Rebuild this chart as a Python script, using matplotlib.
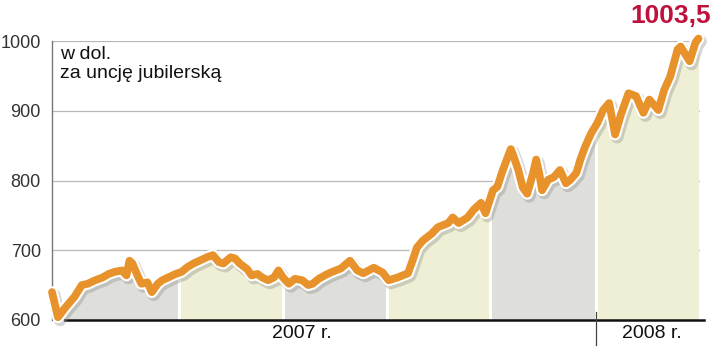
import matplotlib
matplotlib.use("Agg")
import matplotlib.pyplot as plt
import matplotlib.patheffects as pe
import numpy as np

# gold price, USD per troy ounce, days since 1 Jan 2007
days = [0, 4, 9, 15, 20, 24, 29, 34, 38, 42, 47, 50, 52, 54, 58, 60, 64, 67, 71, 74,
        78, 83, 87, 91, 95, 99, 104, 108, 112, 115, 120, 123, 126, 131, 134, 138, 141,
        145, 149, 152, 155, 159, 163, 168, 172, 175, 179, 184, 187, 194, 200, 205, 209,
        216, 222, 226, 232, 239, 242, 245, 249, 255, 259, 266, 269, 273, 279, 283, 288,
        291, 296, 299, 302, 306, 308, 310, 313, 316, 319, 323, 325, 327, 329, 333, 337,
        341, 345, 348, 352, 355, 358, 362, 366, 370, 374, 378, 382, 387, 392, 397, 401,
        407, 411, 415, 420, 422, 428, 432, 434]
price = [640, 604, 618, 633, 650, 652, 657, 661, 666, 669, 671, 664, 685, 681, 661, 652,
         654, 640, 652, 657, 661, 666, 669, 676, 681, 685, 690, 693, 683, 681, 690, 688,
         681, 673, 664, 666, 661, 657, 661, 671, 661, 652, 659, 657, 650, 652, 659, 665,
         668, 674, 685, 671, 667, 675, 668, 657, 661, 667, 685, 704, 714, 724, 733, 739,
         747, 739, 747, 758, 768, 753, 786, 791, 811, 834, 845, 834, 815, 790, 781, 811,
         830, 811, 786, 801, 805, 815, 796, 801, 811, 832, 849, 868, 882, 901, 911, 866,
         895, 925, 921, 897, 916, 901, 930, 949, 988, 992, 971, 998, 1003.5]

band_edges = [0, 85, 155, 225, 294, 365, 434]
band_colors = ["#dededa", "#efefd5"]
y_ticks = [600, 700, 800, 900, 1000]
year_labels = ["2007 r.", "2008 r."]
year_start = 365
last_label = "1003,5"

plt.rcParams["font.family"] = ["Liberation Sans", "DejaVu Sans"]

days = np.array(days, dtype=float)
price = np.array(price)

fig = plt.figure(figsize=(7.2, 3.47), dpi=100)
ax = fig.add_axes([52 / 720, 1 - 320 / 347, 648 / 720, 279 / 347])
ax.set_xlim(0, 435)
ax.set_ylim(600, 1000)

# coloured bands under the curve
for i in range(len(band_edges) - 1):
    a, b = band_edges[i], band_edges[i + 1]
    xs = np.concatenate([[a], days[(days > a) & (days < b)], [b]])
    ys = np.interp(xs, days, price)
    ax.fill_between(xs, 600, ys, color=band_colors[i % 2], lw=0, zorder=1)
for e in band_edges[1:-1]:
    ax.plot([e, e], [600, np.interp(e, days, price)], color="white", lw=2.2, zorder=2)

for t in y_ticks[1:]:
    ax.axhline(t, color="#b8b8b8", lw=0.9, zorder=0)

ax.plot(days, price, color="#e8922b", lw=5.6, solid_capstyle="round",
        solid_joinstyle="round", clip_on=False, zorder=5,
        path_effects=[pe.SimpleLineShadow(offset=(1.5, -2), shadow_color="#888888",
                                          alpha=0.35, linewidth=9),
                      pe.Stroke(linewidth=8.6, foreground="white"),
                      pe.Normal()])

for s in ["top", "right"]:
    ax.spines[s].set_visible(False)
ax.spines["left"].set_color("#777777")
ax.spines["left"].set_linewidth(1.0)
ax.spines["bottom"].set_color("#111111")
ax.spines["bottom"].set_linewidth(1.8)
ax.spines["bottom"].set_bounds(9, 438)

ax.set_yticks(y_ticks)
ax.set_yticklabels([str(t) for t in y_ticks], fontsize=13, color="#333333")
ax.tick_params(axis="y", length=0, pad=8)
ax.set_xticks([])

# year labels and divider
ax.text(168, -0.05, year_labels[0], transform=ax.get_xaxis_transform(),
        ha="center", va="center", fontsize=14, color="#111111")
ax.text(403, -0.05, year_labels[1], transform=ax.get_xaxis_transform(),
        ha="center", va="center", fontsize=14, color="#111111")
ax.plot([year_start, year_start], [0.03, -0.09], color="#444444", lw=0.9,
        transform=ax.get_xaxis_transform(), clip_on=False, zorder=6)

ax.text(5.5, 993, "w dol.\nza uncję jubilerską", fontsize=14, color="#111111",
        va="top", ha="left", linespacing=1.15, zorder=6)
fig.text(711 / 720, 1 - 16 / 347, last_label, fontsize=19, fontweight="bold",
         color="#c0103c", ha="right", va="center")

fig.savefig("out.png", dpi=100)
